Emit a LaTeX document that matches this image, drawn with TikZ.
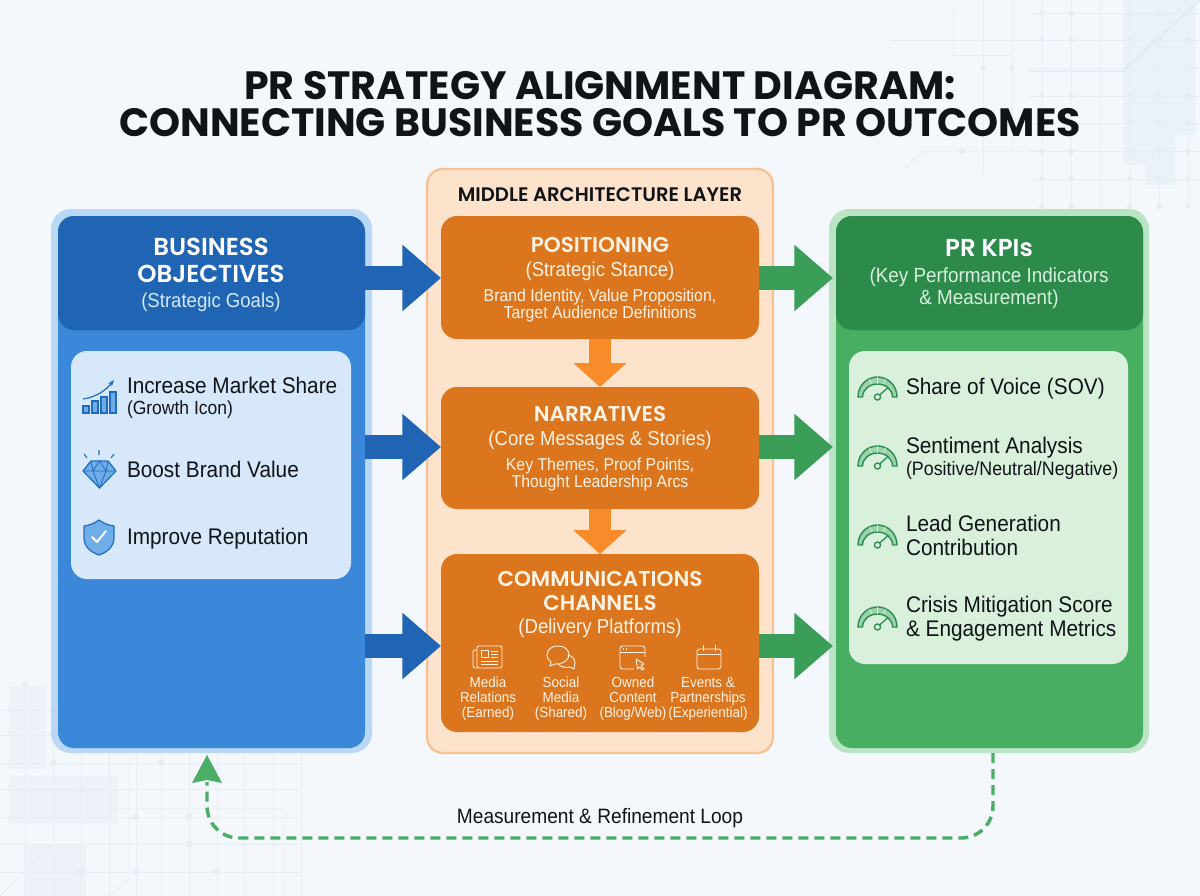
\documentclass[tikz,border=0pt]{standalone}
\usepackage{fontspec}
\setmainfont[FakeStretch=0.92]{Liberation Sans}
\newfontfamily\headfont{Poppins}
\newfontfamily\semifont{Poppins SemiBold}
\usetikzlibrary{arrows.meta,calc}
\newcommand\fpx[1]{\fontsize{\fpeval{#1*0.75}pt}{\fpeval{#1*0.75*1.2}pt}\selectfont}
\newcommand\fpxl[2]{\fontsize{\fpeval{#1*0.75}pt}{\fpeval{#2*0.75}pt}\selectfont}
\definecolor{bgc}{HTML}{F4F8FC}
\definecolor{decoc}{HTML}{E6EDF4}
\definecolor{blockc}{HTML}{DCE7F0}
\definecolor{blueouter}{HTML}{B8D8F6}
\definecolor{bluepanel}{HTML}{3B87DA}
\definecolor{bluehead}{HTML}{1F65B4}
\definecolor{bluecard}{HTML}{D6E8F9}
\definecolor{blueicon}{HTML}{1F6CBF}
\definecolor{blueiconfill}{HTML}{6FADE8}
\definecolor{orpanel}{HTML}{FEE3CC}
\definecolor{orborder}{HTML}{F8C394}
\definecolor{orbox}{HTML}{DB761E}
\definecolor{orarrow}{HTML}{F88C2B}
\definecolor{ortext}{HTML}{FFF2E3}
\definecolor{grouter}{HTML}{B9E5C5}
\definecolor{grpanel}{HTML}{47AE62}
\definecolor{grhead}{HTML}{2C8A4B}
\definecolor{grcard}{HTML}{D8F0DC}
\definecolor{grarrow}{HTML}{3A9E58}
\definecolor{gricon}{HTML}{2E8F50}
\definecolor{grfill}{HTML}{9BD3AA}
\definecolor{loopc}{HTML}{4BAE67}
\definecolor{ink}{HTML}{101418}
\tikzset{
  x=0.75pt,y=-0.75pt,
  panelbox/.style={rounded corners=12pt,inner sep=0pt,outer sep=0pt},
  txt/.style={inner sep=0pt,outer sep=0pt,text=ink,align=left,anchor=west,font=\fpx{22.6}},
  subtxt/.style={txt,font=\fpx{19}},
  headtxt/.style={inner sep=0pt,align=center,text=white,font=\semifont\fpxl{24.5}{27}},
  subhead/.style={inner sep=0pt,align=center,font=\fpxl{20.2}{22}},
  small/.style={inner sep=0pt,align=center,text=ortext,font=\fpxl{14.6}{15}},
  blockarrow/.style={line width=18pt,draw=#1,-{Triangle[length=29pt,width=48pt,fill=#1]}},
  vblock/.style={line width=16.5pt,draw=#1,-{Triangle[length=18pt,width=39pt,fill=#1]}},
  deco/.style={draw=decoc,line width=0.6pt},
  gauge/.pic={
    \filldraw[fill=grfill,draw=gricon,line width=1.1pt,line join=round]
      (-19.5,0) .. controls (-19.5,-11) and (-11,-20) .. (0,-20)
      .. controls (11,-20) and (19.5,-11) .. (19.5,0) -- (15,0)
      .. controls (15,-7.5) and (8,-13) .. (0,-13)
      .. controls (-8,-13) and (-15,-7.5) .. (-15,0) -- cycle;
    \draw[grcard,line width=0.6pt] (-8,-18) -- (-6,-13) (8,-18) -- (6,-13) (0,-20) -- (0,-13);
    \draw[gricon,line width=1pt] (1,-1) -- (10,-9);
    \draw[gricon,line width=1pt,fill=grcard] (0,0) circle[radius=2.3pt];
  },
}
\begin{document}
\begin{tikzpicture}
\useasboundingbox (0,0) rectangle (1200,896);
\fill[bgc] (0,0) rectangle (1200,896);
% faint background ornament: top right
\fill[blockc,opacity=.4] (1123,0) rectangle (1195,135) (1123,135) rectangle (1175,165) (1145,125) rectangle (1175,185);
\foreach \vx in {1042,1071,1100,1130,1159,1188} \draw[deco] (\vx,0) -- (\vx,209);
\foreach \hy in {13,40,68,96,123,151,179} \draw[deco] (1030,\hy) -- (1200,\hy);
\draw[deco] (890,40) -- (1030,40) (953,10) -- (953,55) -- (1010,55) (983,0) -- (983,175) (1012,0) -- (1012,150);
\draw[deco] (906,168) -- (923,151) -- (1100,151);
\draw[blockc,line width=.8pt] (1031,71) -- (1123,71) -- (1200,0);
\foreach \vx in {1042,1071,1130,1159,1188} \foreach \hy in {13,40,96,123,151,179,206} \fill[decoc] (\vx,\hy) circle[radius=2.2pt];
\fill[decoc] (983,68) circle[radius=2pt] (1012,68) circle[radius=2pt] (962,151) circle[radius=2.5pt];
% faint background ornament: bottom left
\fill[blockc,opacity=.3] (9,686) rectangle (46,769) (9,776) rectangle (118,824) (24,845) rectangle (86,896);
\foreach \vx in {25,53,81,109,136,161,189,217,244,273,301} \draw[deco] (\vx,680) -- (\vx,896);
\foreach \hy in {710,735,763,789,817,844,872} \draw[deco] (0,\hy) -- (300,\hy);
\draw[deco] (0,896) -- (53,845) (109,896) -- (129,879) -- (129,756) (109,755) -- (109,809) -- (283,809) -- (283,896);
\foreach \dx/\dy in {25/685,81/789,136/817,189/817,189/844,81/872,217/872,161/763,53/763,136/872} \fill[decoc] (\dx,\dy) circle[radius=2.5pt];
% title
\node[inner sep=0pt,align=center,text=ink,font=\headfont\bfseries\fpxl{39.5}{37.5}] (title) at (600,104)
  {PR STRATEGY ALIGNMENT DIAGRAM:\\CONNECTING BUSINESS GOALS TO PR OUTCOMES};
% left panel
\fill[blueouter,rounded corners=15pt] (51,209) rectangle (372,753);
\node[panelbox,fill=bluepanel,minimum width=307*.75pt,minimum height=532*.75pt,anchor=north west] (left) at (58,216) {};
\path[fill=bluehead,rounded corners=12pt] (58,330) -- (58,216) -- (365,216) -- (365,330) -- cycle;
\node[panelbox,fill=bluecard,minimum width=280*.75pt,minimum height=228*.75pt,anchor=north west] (leftcard) at (71,351) {};
\node[headtxt] (bo) at (211,260.5) {BUSINESS\\OBJECTIVES};
\node[subhead,text=bluecard] (bosub) at (211,302) {(Strategic Goals)};
\node[txt] (l1) at (127,385) {Increase Market Share};
\node[subtxt] (l1b) at (127,410) {(Growth Icon)};
\node[txt] (l2) at (127,469.5) {Boost Brand Value};
\node[txt] (l3) at (127,539) {Improve Reputation};
% growth icon
\begin{scope}[draw=blueicon,line width=.9pt]
\filldraw[fill=blueiconfill] (83,406) rectangle (89,413) (92,401) rectangle (98,413) (101,397) rectangle (107,413) (110,392) rectangle (116,413);
\draw[-{Stealth[length=5pt]}] (83,399) .. controls (97,397) and (106,390) .. (114,380);
% diamond
\filldraw[fill=blueiconfill,line join=round] (91,461) -- (108,461) -- (116,471) -- (99.5,488) -- (83,471) -- cycle;
\draw[line width=.6pt] (83,471) -- (116,471) (91,461) -- (93,471) -- (99.5,488) -- (106,471) -- (108,461) (93,471) -- (99.5,461) -- (106,471);
\draw[line width=.8pt] (99,450) -- (99,455) (84,454) -- (87,458) (114,454) -- (111,458);
% shield
\filldraw[fill=blueiconfill,line join=round] (99,520) .. controls (93,524) and (90,525) .. (84,526) -- (84,538) .. controls (84,546) and (90,552) .. (99,555) .. controls (108,552) and (114,546) .. (114,538) -- (114,526) .. controls (108,525) and (105,524) .. (99,520) -- cycle;
\end{scope}
\draw[white,line width=1.4pt,line cap=round,line join=round] (92,537) -- (97,542) -- (106,531);
% middle panel
\node[panelbox,fill=orpanel,draw=orborder,line width=1.8pt,minimum width=346*.75pt,minimum height=584*.75pt,anchor=north west] (mid) at (427,169) {};
\node[inner sep=0pt,text=ink,font=\semifont\fpx{19.6}] (midt) at (600,195) {MIDDLE ARCHITECTURE LAYER};
\node[panelbox,fill=orbox,minimum width=318*.75pt,minimum height=123*.75pt,anchor=north west] (pos) at (441,216) {};
\node[panelbox,fill=orbox,minimum width=318*.75pt,minimum height=122*.75pt,anchor=north west] (nar) at (441,387) {};
\node[panelbox,fill=orbox,minimum width=318*.75pt,minimum height=178*.75pt,anchor=north west] (com) at (441,554) {};
\node[headtxt,text=ortext,font=\semifont\fpx{21.5}] (post) at (600,245) {POSITIONING};
\node[subhead,text=ortext] (poss) at (600,271) {(Strategic Stance)};
\node[small,font=\fpxl{17.2}{17}] (posd) at (600,305.5) {Brand Identity, Value Proposition,\\Target Audience Definitions};
\node[headtxt,text=ortext,font=\semifont\fpx{21.5}] (nart) at (600,414) {NARRATIVES};
\node[subhead,text=ortext] (nars) at (600,440) {(Core Messages \& Stories)};
\node[small,font=\fpxl{17.2}{17}] (nard) at (600,474.5) {Key Themes, Proof Points,\\Thought Leadership Arcs};
\node[headtxt,text=ortext,font=\semifont\fpxl{21.5}{24}] (comt) at (600,591) {COMMUNICATIONS\\CHANNELS};
\node[subhead,text=ortext] (coms) at (600,628) {(Delivery Platforms)};
\node[small] (c1) at (488,698.5) {Media\\Relations\\(Earned)};
\node[small] (c2) at (561,698.5) {Social\\Media\\(Shared)};
\node[small] (c3) at (633,698.5) {Owned\\Content\\(Blog/Web)};
\node[small] (c4) at (708,698.5) {Events \&\\Partnerships\\(Experiential)};
% channel icons
\begin{scope}[draw=ortext,line width=.7pt,line join=round]
\draw[rounded corners=1.5pt] (477,646) rectangle (502,668) (477,668) -- (473,668) -- (473,650) -- (477,650);
\draw (481,650) rectangle (488,657) (491,651) -- (498,651) (491,654) -- (498,654) (491,657) -- (498,657) (481,661) -- (498,661) (481,664.5) -- (498,664.5);
\draw (558,646) .. controls (550,646) and (547,651) .. (547,655) .. controls (547,658) and (549,661) .. (551,662) -- (550,666) -- (555,664) .. controls (562,665) and (569,660) .. (569,655) .. controls (569,650) and (565,646) .. (558,646) -- cycle;
\draw (568,655) .. controls (573,656) and (575,660) .. (575,663) -- (574,669) -- (570,667) .. controls (565,668) and (561,667) .. (558,664);
\draw[rounded corners=2pt] (620,646) rectangle (645,669);
\draw (620,652) -- (645,652);
\draw[line width=1pt] (623,649) -- (624,649) (626,649) -- (627,649);
\fill[orbox] (634,657) rectangle (647,671);
\draw (636,659) -- (644,664) -- (641,665.5) -- (644,669) -- (642,670) -- (639.5,667) -- (637.5,669) -- cycle;
\draw[rounded corners=2pt] (697,649) rectangle (721,669);
\draw (697,654.5) -- (721,654.5) (703,645) -- (703,651) (715,645) -- (715,651);
\end{scope}
% right panel
\fill[grouter,rounded corners=15pt] (829,209) rectangle (1149,753);
\node[panelbox,fill=grpanel,minimum width=307*.75pt,minimum height=532*.75pt,anchor=north west] (right) at (836,216) {};
\path[fill=grhead,rounded corners=12pt] (836,330) -- (836,216) -- (1143,216) -- (1143,330) -- cycle;
\node[panelbox,fill=grcard,minimum width=279*.75pt,minimum height=313*.75pt,anchor=north west] (rightcard) at (849,351) {};
\node[headtxt] (kpi) at (989,248) {PR KPIs};
\node[subhead,text=grcard,font=\fpxl{20.5}{22}] (kpis) at (989,288) {(Key Performance Indicators\\\& Measurement)};
\node[txt] (r1) at (906,389) {Share of Voice (SOV)};
\node[txt] (r2) at (906,448) {Sentiment Analysis};
\node[subtxt,font=\fpx{19.4}] (r2b) at (906,470) {(Positive/Neutral/Negative)};
\node[txt,font=\fpxl{22.6}{24}] (r3) at (906,535) {Lead Generation\\Contribution};
\node[txt,font=\fpxl{22.6}{24}] (r4) at (906,619) {Crisis Mitigation Score\\\& Engagement Metrics};
\pic at (877.5,397) {gauge};
\pic at (877.5,466) {gauge};
\pic at (877.5,545) {gauge};
\pic at (877.5,627) {gauge};
% connectors
\coordinate (a1) at (365,278); \coordinate (a2) at (365,447); \coordinate (a3) at (365,646);
\draw[blockarrow=bluehead] (a1) -- (pos.west |- a1);
\draw[blockarrow=bluehead] (a2) -- (nar.west |- a2);
\draw[blockarrow=bluehead] (a3) -- (com.west |- a3);
\coordinate (g1) at (759,278); \coordinate (g2) at (759,447); \coordinate (g3) at (759,646);
\draw[blockarrow=grarrow,shorten >=2.25pt] (g1) -- (right.west |- g1);
\draw[blockarrow=grarrow,shorten >=2.25pt] (g2) -- (right.west |- g2);
\draw[blockarrow=grarrow,shorten >=2.25pt] (g3) -- (right.west |- g3);
\draw[vblock=orarrow] (pos.south) -- (nar.north);
\draw[vblock=orarrow] (nar.south) -- (com.north);
% loop
\coordinate (lr) at (993,753); \coordinate (ll) at (207,755);
\draw[loopc,line width=2.6pt,dash pattern=on 7.5pt off 4.5pt,rounded corners=24pt] (lr) -- (993,838) -- (207,838) -- (207,782);
\fill[loopc] (ll) -- (222,783) -- (207,780) -- (192,783) -- cycle;
\node[inner sep=0pt,text=ink,font=\fpx{20.8}] (looplab) at (600,818) {Measurement \& Refinement Loop};
\end{tikzpicture}
\end{document}
